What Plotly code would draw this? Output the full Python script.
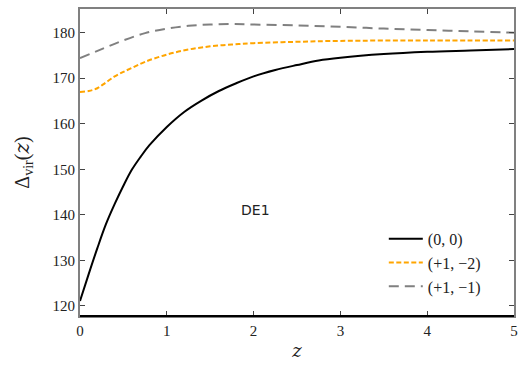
import plotly.graph_objects as go

# redshift grid and Delta_vir(z)
z_black = [0, 0.1, 0.2, 0.3, 0.4, 0.5, 0.6, 0.7, 0.8, 1.0, 1.2, 1.4, 1.6, 1.8,
           2.0, 2.25, 2.5, 2.75, 3.0, 3.5, 4.0, 4.5, 5.0]
dv_black = [121.1, 127.0, 132.7, 138.0, 142.4, 146.4, 150.0, 152.8, 155.3, 159.3,
            162.6, 165.1, 167.2, 168.9, 170.4, 171.8, 172.9, 173.9, 174.5, 175.3,
            175.8, 176.1, 176.4]

z_orange = [0, 0.1, 0.2, 0.3, 0.4, 0.5, 0.6, 0.75, 1.0, 1.25, 1.5, 1.75, 2.0,
            2.5, 3.0, 4.0, 5.0]
dv_orange = [167.0, 167.2, 167.8, 169.1, 170.4, 171.4, 172.3, 173.6, 175.2, 176.3,
             177.0, 177.4, 177.7, 178.0, 178.2, 178.3, 178.3]

z_gray = [0, 0.25, 0.5, 0.75, 1.0, 1.25, 1.5, 1.75, 2.0, 2.5, 3.0, 3.5, 4.0, 4.5, 5.0]
dv_gray = [174.4, 176.4, 178.3, 179.9, 180.9, 181.5, 181.8, 181.9, 181.8, 181.6,
           181.3, 180.9, 180.6, 180.3, 180.0]

labels = ["(0, 0)", "(+1, \u22122)", "(+1, \u22121)"]
x_ticks = [0, 1, 2, 3, 4, 5]
y_ticks = [120, 130, 140, 150, 160, 170, 180]

SERIF = "Liberation Serif"
ZIT = "<span style='font-family:DejaVu Serif;font-style:italic'>z</span>"

fig = go.Figure()
fig.add_trace(go.Scatter(x=z_black, y=dv_black, mode="lines", name=labels[0],
                         line=dict(color="black", width=2, shape="spline")))
fig.add_trace(go.Scatter(x=z_orange, y=dv_orange, mode="lines", name=labels[1],
                         line=dict(color="orange", width=2, dash="5px,2.5px", shape="spline")))
fig.add_trace(go.Scatter(x=z_gray, y=dv_gray, mode="lines", name=labels[2],
                         line=dict(color="gray", width=2, dash="10px,6px", shape="spline")))

fig.add_annotation(x=2.02, y=141.0, text="DE1", showarrow=False,
                   font=dict(family="DejaVu Sans", size=14, color="#222"))

# bottom spine is black, the rest gray
fig.add_shape(type="line", xref="paper", yref="paper", x0=0, x1=1, y0=0, y1=0,
              line=dict(color="black", width=2))

axis_common = dict(showgrid=False, zeroline=False, showline=True, linecolor="gray",
                   linewidth=2, mirror="ticks", ticks="inside", ticklen=5,
                   tickwidth=1.2, tickcolor="#444",
                   tickfont=dict(family=SERIF, size=15, color="#222"))

fig.update_xaxes(range=[0, 5], tickvals=x_ticks,
                 title=dict(text=ZIT, font=dict(family=SERIF, size=18, color="#222"),
                            standoff=6),
                 **axis_common)
fig.update_yaxes(range=[117.8, 185.2], tickvals=y_ticks,
                 title=dict(text="\u0394<sub>vir</sub>(" + ZIT + ")",
                            font=dict(family=SERIF, size=20, color="#222"), standoff=18),
                 **axis_common)

fig.update_layout(
    width=526, height=373,
    margin=dict(l=80, r=12, t=7, b=57),
    paper_bgcolor="white", plot_bgcolor="white",
    showlegend=True,
    legend=dict(x=0.7, y=0.307, xanchor="left", yanchor="top",
                bgcolor="rgba(0,0,0,0)", borderwidth=0,
                font=dict(family=SERIF, size=16, color="#222"),
                tracegroupgap=2, itemwidth=34),
)

# drop the default 8px page margin so the figure sits at the window origin
fig.write_html("out.html", config={"displayModeBar": False},
               post_script="document.body.style.margin='0';")
